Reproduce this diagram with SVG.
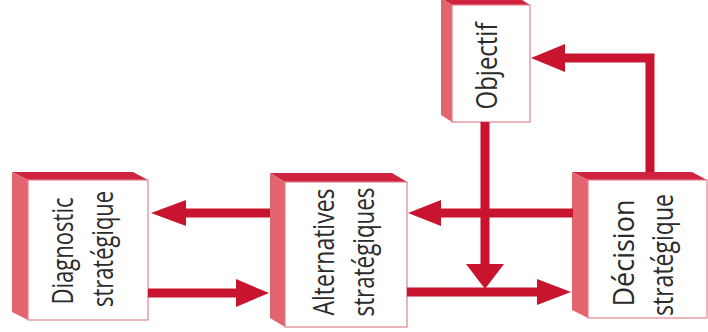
<svg xmlns="http://www.w3.org/2000/svg" width="708" height="332" viewBox="0 0 708 332">
<style>
.front{fill:#ffffff;stroke:#e3808e;stroke-width:1.2}
.top{fill:#cf2340}
.side{fill:#e2646f}
.lbl{font-family:"Open Sans","Liberation Sans",sans-serif;font-size:29px;fill:#2b2b2b;text-anchor:middle}
.ln{stroke:#c8142f;stroke-width:9;fill:none}
.hd{fill:#c8142f}
</style>
<rect width="708" height="332" fill="#ffffff"/>
<g id="diagnostic">
<polygon class="top" points="12,172 133,172 148,180 28,180"/>
<polygon class="side" points="12,172 28,180 28,320 12,312"/>
<rect class="front" x="28" y="180" width="120" height="140"/>
<text class="lbl" transform="translate(73,251) rotate(-90)" textLength="107" lengthAdjust="spacingAndGlyphs">Diagnostic</text>
<text class="lbl" transform="translate(113,249) rotate(-90)" textLength="116" lengthAdjust="spacingAndGlyphs">stratégique</text>
</g>
<g id="alternatives">
<polygon class="top" points="270,173 392,173 407,182 285,182"/>
<polygon class="side" points="270,173 285,182 285,327 270,318"/>
<rect class="front" x="285" y="182" width="122" height="145"/>
<text class="lbl" transform="translate(334,252) rotate(-90)" textLength="127" lengthAdjust="spacingAndGlyphs">Alternatives</text>
<text class="lbl" transform="translate(374,252) rotate(-90)" textLength="129" lengthAdjust="spacingAndGlyphs">stratégiques</text>
</g>
<g id="objectif">
<polygon class="top" points="441,-2 519,-2 530,5 452,5"/>
<polygon class="side" points="441,-2 452,5 452,122 441,115"/>
<rect class="front" x="452" y="5" width="78" height="117"/>
<text class="lbl" transform="translate(497,66) rotate(-90)" textLength="87" lengthAdjust="spacingAndGlyphs">Objectif</text>
</g>
<g id="decision">
<polygon class="top" points="572,172 692,172 707,180 588,180"/>
<polygon class="side" points="572,172 588,180 588,318 572,310"/>
<rect class="front" x="588" y="180" width="119" height="138"/>
<text class="lbl" transform="translate(634,253) rotate(-90)" textLength="107" lengthAdjust="spacingAndGlyphs">Décision</text>
<text class="lbl" transform="translate(673,255) rotate(-90)" textLength="122" lengthAdjust="spacingAndGlyphs">stratégique</text>
</g>
<g id="connectors">
<line class="ln" x1="270" y1="213" x2="184" y2="213"/>
<polygon class="hd" points="151,213 186,200 186,226"/>
<line class="ln" x1="148" y1="293" x2="238" y2="293"/>
<polygon class="hd" points="269,293 236,279 236,307"/>
<line class="ln" x1="573" y1="213" x2="438" y2="213"/>
<polygon class="hd" points="408,213 441,200 441,226"/>
<line class="ln" x1="407" y1="292" x2="539" y2="292"/>
<polygon class="hd" points="571,292 537,279 537,305"/>
<line class="ln" x1="485" y1="122" x2="485" y2="267"/>
<polygon class="hd" points="485,289 466,264 504,264"/>
<polyline class="ln" points="650,172 650,58 563,58"/>
<polygon class="hd" points="531,58 565,44 565,72"/>
</g>
</svg>
